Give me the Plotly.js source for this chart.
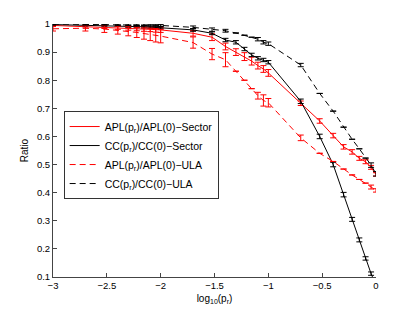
<!DOCTYPE html>
<html>
<head>
<meta charset="utf-8">
<script src="https://cdn.plot.ly/plotly-3.0.1.min.js"></script>
<style>html,body{margin:0;padding:0;background:#fff;}#chart{width:415px;height:312px;}</style>
</head>
<body>
<div id="chart"></div>
<script>
// p_r values (x axis is log10(p_r))
const pr = [0.001,0.002,0.003,0.004,0.005,0.006,0.007,0.008,0.009,0.01,
            0.02,0.03,0.04,0.05,0.06,0.07,0.08,0.09,0.1,
            0.2,0.3,0.4,0.5,0.6,0.7,0.8,0.9,1.0];

const aplSector = [0.995,0.991,0.989,0.987,0.985,0.984,0.982,0.981,0.980,0.979,
                   0.967,0.953,0.920,0.900,0.884,0.868,0.852,0.840,0.826,
                   0.718,0.655,0.603,0.563,0.545,0.522,0.510,0.490,0.465];
const aplSectorErr = [0.004,0.005,0.005,0.006,0.007,0.008,0.008,0.008,0.009,0.009,
                      0.010,0.012,0.012,0.012,0.014,0.014,0.012,0.012,0.012,
                      0.008,0.008,0.008,0.008,0.008,0.007,0.007,0.007,0.006];

const ccSector = [0.998,0.996,0.995,0.994,0.992,0.991,0.990,0.989,0.988,0.987,
                  0.979,0.967,0.943,0.935,0.911,0.890,0.878,0.872,0.864,
                  0.725,0.600,0.500,0.393,0.305,0.232,0.166,0.112,0.070];
const ccSectorErr = [0.002,0.003,0.003,0.003,0.004,0.004,0.004,0.004,0.004,0.004,
                     0.005,0.005,0.006,0.006,0.006,0.006,0.006,0.006,0.006,
                     0.008,0.008,0.008,0.008,0.007,0.007,0.006,0.006,0.006];

const aplULA = [0.983,0.985,0.982,0.978,0.974,0.970,0.966,0.963,0.960,0.957,
                0.934,0.893,0.873,0.832,0.800,0.770,0.745,0.728,0.720,
                0.595,0.540,0.511,0.484,0.463,0.447,0.434,0.420,0.408];
const aplULAErr = [0.008,0.010,0.012,0.014,0.016,0.018,0.020,0.022,0.024,0.024,
                   0.020,0.020,0.025,null,null,null,0.012,0.020,0.015,
                   0.010,null,null,null,null,null,null,0.007,0.006];

const ccULA = [1.000,0.999,0.999,0.998,0.998,0.997,0.997,0.996,0.996,0.995,
               0.988,0.980,0.976,0.968,0.960,0.953,0.946,0.935,0.930,
               0.854,0.753,0.690,0.633,0.590,0.556,0.523,0.498,0.467];
const ccULAErr = [0.002,0.003,0.003,0.003,0.003,0.003,0.003,0.003,0.003,0.003,
                  0.005,0.006,0.005,null,null,null,0.006,0.006,0.006,
                  0.006,null,null,null,null,null,null,0.008,0.008];

const seriesNames = [
  'APL(p<sub>r</sub>)/APL(0)\u2212Sector',
  'CC(p<sub>r</sub>)/CC(0)\u2212Sector',
  'APL(p<sub>r</sub>)/APL(0)\u2212ULA',
  'CC(p<sub>r</sub>)/CC(0)\u2212ULA'
];
const xTickVals = [-3,-2.5,-2,-1.5,-1,-0.5,0];
const yTickVals = [0.1,0.2,0.3,0.4,0.5,0.6,0.7,0.8,0.9,1];

const x = pr.map(v => Math.log10(v));

function tr(name, y, err, color, dash) {
  return {
    type: 'scatter', mode: 'lines', name: name, x: x, y: y,
    line: {color: color, width: 1, dash: dash},
    error_y: {type: 'data', array: err, visible: true, color: color, thickness: 1, width: 3}
  };
}

const data = [
  tr(seriesNames[0], aplSector, aplSectorErr, '#ff0000', 'solid'),
  tr(seriesNames[1], ccSector, ccSectorErr, '#000000', 'solid'),
  tr(seriesNames[2], aplULA, aplULAErr, '#ff0000', '6px,4px'),
  tr(seriesNames[3], ccULA, ccULAErr, '#000000', '6px,4px')
];

const font = {family: '"Liberation Sans", Arial, Helvetica, sans-serif', color: '#000'};

const layout = {
  width: 415, height: 312,
  margin: {l: 53, r: 39, t: 24, b: 35, pad: 0},
  paper_bgcolor: '#fff', plot_bgcolor: '#fff',
  font: Object.assign({size: 10}, font),
  showlegend: true,
  legend: {
    x: 0.033, y: 0.656, xanchor: 'left', yanchor: 'top',
    bgcolor: '#fff', bordercolor: '#333', borderwidth: 1,
    font: Object.assign({size: 10.5}, font),
    tracegroupgap: 0, itemwidth: 30
  },
  xaxis: {
    range: [-3, 0], tickvals: xTickVals, ticks: 'inside', ticklen: 4, tickcolor: '#444',
    showline: true, linecolor: '#444', linewidth: 1, showgrid: false, zeroline: false,
    tickfont: Object.assign({size: 9.5}, font),
    title: {text: 'log<sub>10</sub>(p<sub>r</sub>)', font: Object.assign({size: 10}, font), standoff: 4}
  },
  yaxis: {
    range: [0.1, 1], tickvals: yTickVals, ticks: 'inside', ticklen: 4, tickcolor: '#444',
    showline: true, linecolor: '#444', linewidth: 1, showgrid: false, zeroline: false,
    tickfont: Object.assign({size: 9.5}, font),
    title: {text: 'Ratio', font: Object.assign({size: 10}, font), standoff: 6}
  }
};

Plotly.newPlot('chart', data, layout, {displayModeBar: false, staticPlot: true});
</script>
</body>
</html>
